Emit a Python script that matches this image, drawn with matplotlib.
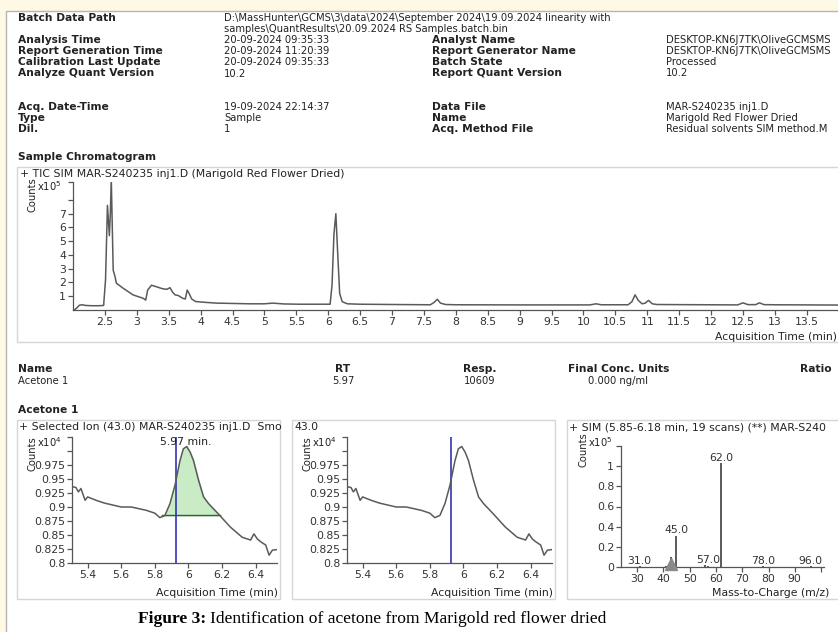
import numpy as np
import matplotlib.pyplot as plt
from matplotlib.patches import Rectangle

# TIC chromatogram (counts x10^5)
tic_time = [2.02, 2.06, 2.10, 2.14, 2.20, 2.30, 2.40, 2.48, 2.51, 2.54, 2.57, 2.585, 2.60, 2.63, 2.66, 2.68, 2.78,
            2.94, 3.10, 3.14, 3.17, 3.23, 3.30, 3.40, 3.47, 3.52, 3.56, 3.60, 3.65, 3.72, 3.76, 3.79, 3.82, 3.86,
            3.92, 4.00, 4.25, 4.77, 5.00, 5.13, 5.30, 5.55, 6.03, 6.06, 6.09, 6.12, 6.15, 6.18, 6.22, 6.30, 6.50,
            7.00, 7.60, 7.66, 7.71, 7.76, 7.84, 8.00, 9.00, 10.10, 10.20, 10.28, 10.70, 10.76, 10.81, 10.86,
            10.92, 10.97, 11.02, 11.08, 11.15, 11.50, 12.00, 12.42, 12.50, 12.58, 12.70, 12.76, 12.83, 13.00,
            13.50, 14.00]
tic_counts = [0.0, 0.15, 0.35, 0.38, 0.33, 0.31, 0.31, 0.33, 2.2, 7.6, 5.4, 7.0, 9.5, 2.9, 2.4, 1.95, 1.6,
              1.1, 0.85, 0.72, 1.45, 1.8, 1.7, 1.55, 1.5, 1.62, 1.3, 1.1, 1.05, 0.85, 0.8, 1.45, 1.2, 0.8,
              0.62, 0.58, 0.5, 0.45, 0.45, 0.5, 0.44, 0.42, 0.42, 1.8, 5.5, 7.0, 4.0, 1.2, 0.6, 0.45, 0.42,
              0.4, 0.38, 0.55, 0.78, 0.5, 0.4, 0.38, 0.37, 0.37, 0.45, 0.38, 0.38, 0.6, 1.1, 0.7, 0.45, 0.5,
              0.7, 0.45, 0.4, 0.39, 0.38, 0.37, 0.52, 0.39, 0.39, 0.52, 0.39, 0.38, 0.37, 0.36]
tic_xticks = [2.5, 3, 3.5, 4, 4.5, 5, 5.5, 6, 6.5, 7, 7.5, 8, 8.5, 9, 9.5, 10, 10.5, 11, 11.5, 12, 12.5, 13, 13.5]

# Selected ion 43.0 trace (counts x10^4)
ion_time = [5.31, 5.33, 5.345, 5.36, 5.385, 5.40, 5.45, 5.50, 5.60, 5.66, 5.75, 5.80, 5.83, 5.86, 5.89, 5.92,
            5.95, 5.97, 5.99, 6.01, 6.03, 6.06, 6.09, 6.12, 6.18, 6.25, 6.32, 6.37, 6.39, 6.41, 6.43, 6.46,
            6.48, 6.50, 6.53]
ion_counts = [0.936, 0.935, 0.927, 0.933, 0.912, 0.918, 0.912, 0.907, 0.900, 0.900, 0.894, 0.889, 0.881, 0.885,
              0.906, 0.939, 0.983, 1.004, 1.008, 0.998, 0.983, 0.948, 0.918, 0.906, 0.887, 0.864, 0.846, 0.841,
              0.852, 0.843, 0.838, 0.832, 0.814, 0.823, 0.824]
peak_start, peak_end, peak_base = 5.84, 6.19, 0.885
rt_line = 5.925
ion_yticks = [0.8, 0.825, 0.85, 0.875, 0.9, 0.925, 0.95, 0.975, 1.0]
ion_xticks = [5.4, 5.6, 5.8, 6.0, 6.2, 6.4]

# SIM spectrum (counts x10^5)
spec_mz = [31, 41, 42, 43, 45, 56, 57, 62, 78, 96]
spec_abund = [0.008, 0.01, 0.03, 0.10, 0.31, 0.02, 0.01, 1.03, 0.006, 0.006]
label_mz = [31, 45, 57, 62, 78, 96]
label_txt = ["31.0", "45.0", "57.0", "62.0", "78.0", "96.0"]
quant_ion = 43

header_left = [("Batch Data Path", 18), ("Analysis Time", 40), ("Report Generation Time", 51),
               ("Calibration Last Update", 62), ("Analyze Quant Version", 73),
               ("Acq. Date-Time", 107), ("Type", 118), ("Dil.", 129)]
header_left_val = [("D:\\MassHunter\\GCMS\\3\\data\\2024\\September 2024\\19.09.2024 linearity with", 18),
                   ("samples\\QuantResults\\20.09.2024 RS Samples.batch.bin", 29),
                   ("20-09-2024 09:35:33", 40), ("20-09-2024 11:20:39", 51), ("20-09-2024 09:35:33", 62),
                   ("10.2", 74), ("19-09-2024 22:14:37", 107), ("Sample", 118), ("1", 129)]
header_right = [("Analyst Name", 40), ("Report Generator Name", 51), ("Batch State", 62),
                ("Report Quant Version", 73), ("Data File", 107), ("Name", 118), ("Acq. Method File", 129)]
header_right_val = [("DESKTOP-KN6J7TK\\OliveGCMSMS", 40), ("DESKTOP-KN6J7TK\\OliveGCMSMS", 51),
                    ("Processed", 62), ("10.2", 73), ("MAR-S240235 inj1.D", 107),
                    ("Marigold Red Flower Dried", 118), ("Residual solvents SIM method.M", 129)]

W, H = 838, 632
CREAM = "#fdf9e4"
TRACE = "#5a5a5a"
AXC = "#555555"
TXT = "#222222"
BOLD = 7.7
VAL = 7.2
CH = 7.8

fig = plt.figure(figsize=(W / 100, H / 100), dpi=100)
fig.patch.set_facecolor(CREAM)


def fx(x):
    return x / W


def fy(y):
    return 1 - y / H


def put(x, y, s, size=BOLD, bold=False, ha="left", **kw):
    return fig.text(fx(x), fy(y), s, fontsize=size, fontweight="bold" if bold else "normal",
                    ha=ha, va="center", color=kw.pop("color", TXT), zorder=5, **kw)


def box(x0, y0, x1, y1, ec, fc="none", lw=1.0, z=-5):
    fig.add_artist(Rectangle((fx(x0), fy(y1)), (x1 - x0) / W, (y1 - y0) / H, transform=fig.transFigure,
                             ec=ec, fc=fc, lw=lw, zorder=z))


def axes_px(l, t, r, b):
    ax = fig.add_axes([fx(l), fy(b), (r - l) / W, (b - t) / H])
    ax.set_facecolor("none")
    for s in ["top", "right"]:
        ax.spines[s].set_visible(False)
    for s in ["left", "bottom"]:
        ax.spines[s].set_color(AXC)
        ax.spines[s].set_linewidth(0.9)
    ax.tick_params(direction="out", length=3.5, width=0.9, color=AXC, labelsize=CH, labelcolor="#333333", pad=1.5)
    return ax


# page
box(6, 11, W + 5, H + 5, "#b5b5b5", fc="white", lw=1.0, z=-10)

# header block
for s, y in header_left:
    put(18, y, s, bold=True)
for s, y in header_left_val:
    put(224, y, s, size=VAL)
for s, y in header_right:
    put(432, y, s, bold=True)
for s, y in header_right_val:
    put(666, y, s, size=VAL)

put(18, 157, "Sample Chromatogram", bold=True)

# TIC panel
box(17, 167, W + 5, 342, "#d6d6d6")
put(20, 174, "+ TIC SIM MAR-S240235 inj1.D (Marigold Red Flower Dried)", size=CH)
put(27, 195, "Counts", size=7.2, rotation=90)
put(37, 186, "x10$^5$", size=7.2)
ax0 = axes_px(73, 182, W, 310)
ax0.plot(tic_time, tic_counts, color=TRACE, lw=1.1)
ax0.set_xlim(2.0, 2.0 + (W - 73) / 63.8)
ax0.set_ylim(0, 9.3)
ax0.set_yticks(list(range(1, 9)) + [9.3])
ax0.set_yticklabels([str(i) for i in range(1, 8)] + ["", ""])
ax0.set_xticks(tic_xticks)
ax0.set_xticklabels(["%g" % v for v in tic_xticks])
put(W - 1, 337, "Acquisition Time (min)", size=CH, ha="right")

# compound row
put(18, 369, "Name", bold=True)
put(18, 381, "Acetone 1", size=VAL)
put(343, 369, "RT", bold=True, ha="center")
put(343, 381, "5.97", size=VAL, ha="center")
put(480, 369, "Resp.", bold=True, ha="center")
put(480, 381, "10609", size=VAL, ha="center")
put(568, 369, "Final Conc. Units", bold=True)
put(618, 381, "0.000 ng/ml", size=VAL, ha="center")
put(800, 369, "Ratio", bold=True)
put(18, 410, "Acetone 1", bold=True)


def ion_panel(dx, title, shade):
    box(17 + dx, 420, 280 + dx, 599, "#d6d6d6")
    put(19 + dx, 427, title, size=CH)
    put(27 + dx, 454, "Counts", size=7.2, rotation=90)
    put(37 + dx, 442, "x10$^4$", size=7.2)
    ax = axes_px(72 + dx, 437, 277 + dx, 563)
    ax.plot(ion_time, ion_counts, color=TRACE, lw=1.1, zorder=3)
    ax.set_xlim(5.307, 5.307 + 205 / 168)
    ax.set_ylim(0.8, 1.025)
    ax.set_yticks(ion_yticks + [1.025])
    ax.set_yticklabels(["%g" % v for v in ion_yticks[:-1]] + ["", ""])
    ax.set_xticks(ion_xticks)
    ax.set_xticklabels(["%g" % v for v in ion_xticks])
    if shade:
        t = np.array(ion_time)
        c = np.array(ion_counts)
        m = (t > peak_start) & (t < peak_end)
        ts = np.concatenate([[peak_start], t[m], [peak_end]])
        cs = np.concatenate([[np.interp(peak_start, t, c)], c[m], [np.interp(peak_end, t, c)]])
        ax.fill_between(ts, cs, peak_base, color="#c9ecc6", zorder=1)
        ax.plot([peak_start, peak_end], [peak_base, peak_base], color="#3d5a3d", lw=1.0, zorder=2)
        ax.text(5.985, 1.016, "5.97 min.", fontsize=CH, ha="center", va="center", color=TXT, zorder=4)
    ax.axvline(rt_line, color="#3434b0", lw=1.2, zorder=2)
    put(278 + dx, 593, "Acquisition Time (min)", size=CH, ha="right")
    return ax


ion_panel(0, "+ Selected Ion (43.0) MAR-S240235 inj1.D  Smo", True)
ion_panel(275, "43.0", False)

# spectrum panel
box(567, 420, W + 5, 599, "#d6d6d6")
put(569, 428, "+ SIM (5.85-6.18 min, 19 scans) (**) MAR-S240", size=CH)
put(578, 450, "Counts", size=7.2, rotation=90)
put(588, 442, "x10$^5$", size=7.2)
ax3 = axes_px(621, 446, 824, 567)
ax3.vlines(spec_mz, 0, spec_abund, color=TRACE, lw=1.4)
for m, s in zip(label_mz, label_txt):
    h = spec_abund[spec_mz.index(m)]
    ax3.text(m, h + 0.005, s, fontsize=CH, ha="center", va="bottom", color="#333333")
ax3.plot([quant_ion], [0.03], marker="^", ms=8, color="#8a8a8a", clip_on=False, zorder=4)
ax3.set_xlim(23.9, 101.1)
ax3.set_ylim(0, 1.2)
ax3.set_yticks([0, 0.2, 0.4, 0.6, 0.8, 1.0, 1.2])
ax3.set_yticklabels(["0", "0.2", "0.4", "0.6", "0.8", "1", ""])
ax3.set_xticks([30, 40, 50, 60, 70, 80, 90, 100])
ax3.set_xticklabels(["30", "40", "50", "60", "70", "80", "90", ""])
put(829, 593, "Mass-to-Charge (m/z)", size=CH, ha="right")

# caption
cap1 = fig.text(fx(138), fy(619), "Figure 3:", fontsize=12.6, fontweight="bold", family="Liberation Serif",
                ha="left", va="center", color="black")
fig.canvas.draw()
bb = cap1.get_window_extent()
fig.text(bb.x1 / W + 4 / W, fy(619), "Identification of acetone from Marigold red flower dried", fontsize=12.6,
         family="Liberation Serif", ha="left", va="center", color="black")

fig.savefig("out.png", dpi=100, facecolor=fig.get_facecolor())
